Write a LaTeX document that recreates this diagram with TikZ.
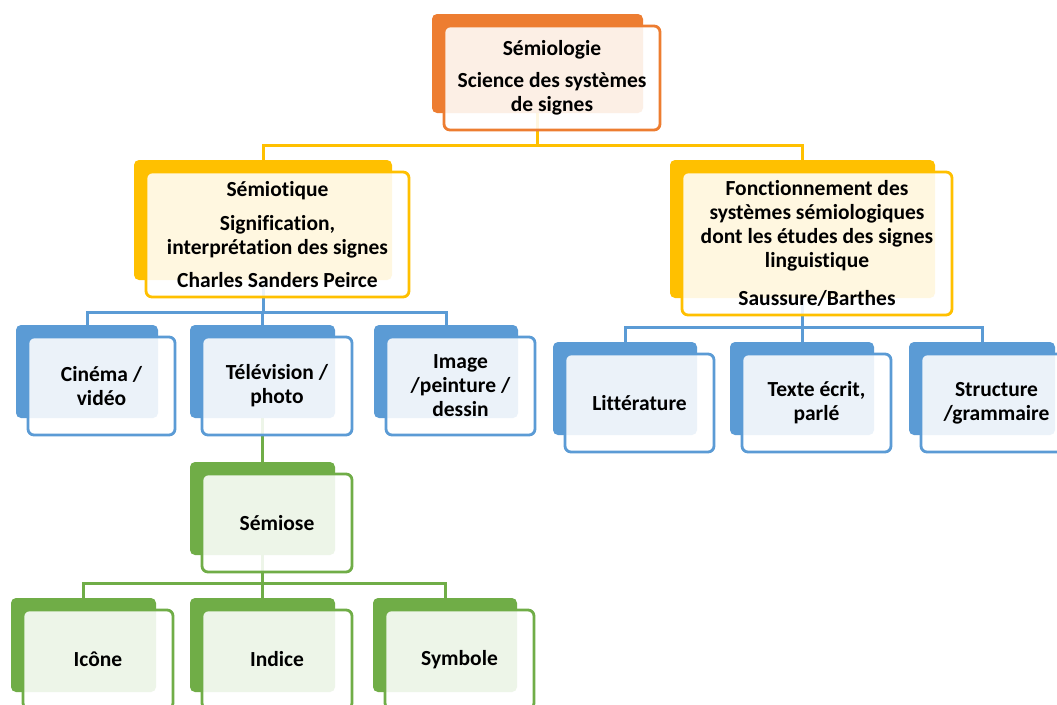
\documentclass[tikz,border=0pt]{standalone}
\usepackage{fontspec}
\setmainfont{Carlito}[Ligatures={NoCommon}]
\definecolor{cOr}{HTML}{ED7D31}
\definecolor{cYe}{HTML}{FFC000}
\definecolor{cBl}{HTML}{5B9BD5}
\definecolor{cGr}{HTML}{70AD47}
\pgfdeclarelayer{bottom}
\pgfdeclarelayer{background}
\pgfsetlayers{bottom,background,main}
\tikzset{
  backbox/.style={rectangle, rounded corners=5pt, draw=none, inner sep=0pt, outer sep=0pt},
  frontbox/.style={rectangle, rounded corners=6pt, line width=2.8pt, fill=white, fill opacity=0.88, text opacity=1,
    inner sep=0pt, outer sep=0pt, align=center, text=black, font=\bfseries\fontsize{21.5}{24}\selectfont},
  conn/.style={line width=3pt},
}
\newcommand\smbox[7]{%
  \node[backbox, fill=#2, minimum width={(#5-#3)*1pt}, minimum height={(#6-#4)*1pt}] (#1) at ({(#3+#5)/2},{(#4+#6)/2}) {};
  \node[frontbox, draw=#2, minimum width={(#5-#3+5)*1pt}, minimum height={(#6-#4+5)*1pt}] (#1f) at ({(#3+#5)/2+14.5},{(#4+#6)/2+14.5}) {#7};
}
\begin{document}
\begin{tikzpicture}[x=1pt,y=-1pt]
\useasboundingbox (0,0) rectangle (1057,704);
\begin{pgfonlayer}{bottom}
\fill[white] (0,0) rectangle (1057,704);
\end{pgfonlayer}
\smbox{semiologie}{cOr}{432}{14}{643}{113}{Sémiologie\\[8pt]Science des systèmes\\de signes}
\smbox{semiotique}{cYe}{134}{160}{392}{280}{Sémiotique\\[10pt]Signification,\\interprétation des signes\\[9pt]Charles Sanders Peirce}
\smbox{fonct}{cYe}{670}{160}{935}{298}{Fonctionnement des\\systèmes sémiologiques\\dont les études des signes\\linguistique\\[14pt]Saussure/Barthes}
\smbox{cinema}{cBl}{16}{325}{158}{418}{Cinéma /\\vidéo}
\smbox{tele}{cBl}{190}{325}{335}{418}{Télévision /\\photo}
\smbox{image}{cBl}{374}{325}{518}{418}{Image\\/peinture /\\dessin}
\smbox{litt}{cBl}{553}{342}{697}{435}{Littérature}
\smbox{texte}{cBl}{730}{342}{874}{435}{Texte écrit,\\parlé}
\smbox{struct}{cBl}{909}{342}{1055}{435}{Structure\\/grammaire}
\smbox{semiose}{cGr}{190}{462}{335}{555}{Sémiose}
\smbox{icone}{cGr}{11}{598}{156}{692}{Icône}
\smbox{indice}{cGr}{190}{598}{335}{692}{Indice}
\smbox{symbole}{cGr}{373}{598}{517}{692}{Symbole}
\begin{pgfonlayer}{background}
\draw[conn, cYe] (semiologie.south) -- ++(0,32) -| (semiotique.north);
\draw[conn, cYe] (semiologie.south) -- ++(0,32) -| (fonct.north);
\draw[conn, cBl] (semiotique.south) -- ++(0,32) -| (cinema.north);
\draw[conn, cBl] (semiotique.south) -- ++(0,32) -| (tele.north);
\draw[conn, cBl] (semiotique.south) -- ++(0,32) -| (image.north);
\draw[conn, cBl] (fonct.south) -- ++(0,29) -| (litt.north);
\draw[conn, cBl] (fonct.south) -- ++(0,29) -| (texte.north);
\draw[conn, cBl] (fonct.south) -- ++(0,29) -| (struct.north);
\draw[conn, cGr] (tele.south) -- (semiose.north);
\draw[conn, cGr] (semiose.south) -- ++(0,28) -| (icone.north);
\draw[conn, cGr] (semiose.south) -- ++(0,28) -| (indice.north);
\draw[conn, cGr] (semiose.south) -- ++(0,28) -| (symbole.north);
\end{pgfonlayer}
\end{tikzpicture}
\end{document}
